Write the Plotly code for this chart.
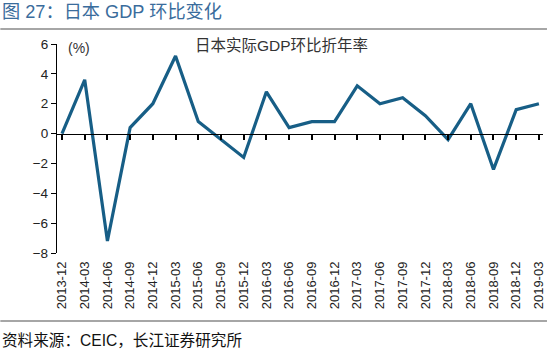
import plotly.graph_objects as go

quarters = ["2013-12","2014-03","2014-06","2014-09","2014-12","2015-03","2015-06","2015-09",
            "2015-12","2016-03","2016-06","2016-09","2016-12","2017-03","2017-06","2017-09",
            "2017-12","2018-03","2018-06","2018-09","2018-12","2019-03"]
gdp_qoq_annualized = [0.0, 3.6, -7.2, 0.4, 2.0, 5.2, 0.8, -0.4, -1.6, 2.8, 0.4, 0.8, 0.8, 3.2,
                      2.0, 2.4, 1.2, -0.4, 2.0, -2.4, 1.6, 2.0]
y_ticks = [-8, -6, -4, -2, 0, 2, 4, 6]

FONT = "Liberation Sans, Arial, Noto Sans CJK SC, sans-serif"
LINE_COLOR = "#175E86"
y_min, y_max = -8, 6

fig = go.Figure()
fig.add_trace(go.Scatter(x=quarters, y=gdp_qoq_annualized, mode="lines",
                         line=dict(color=LINE_COLOR, width=3.2), showlegend=False,
                         hoverinfo="x+y"))
# invisible trace for the zero-line axis with tick marks
fig.add_trace(go.Scatter(x=quarters, y=[0]*len(quarters), xaxis="x2", mode="lines",
                         line=dict(width=0), showlegend=False, hoverinfo="skip"))

x_range = [-0.22, 21.18]
zero_pos = (0 - y_min) / (y_max - y_min)

fig.update_layout(
    width=550, height=350,
    margin=dict(l=57, r=4, t=44, b=97),
    paper_bgcolor="white", plot_bgcolor="white",
    font=dict(family=FONT, color="#222222"),
    xaxis=dict(type="category", categoryorder="array", categoryarray=quarters,
               range=x_range, showline=False, ticks="", showgrid=False, zeroline=False,
               tickangle=-90, tickfont=dict(size=13, color="#222222"),
               ticklabelstandoff=5, domain=[0, 1]),
    xaxis2=dict(type="category", categoryorder="array", categoryarray=quarters,
                range=x_range, overlaying="x", anchor="free", position=zero_pos,
                showline=True, linecolor="black", linewidth=1.3, ticks="outside",
                ticklen=5, tickwidth=1.5, tickcolor="black", showticklabels=False,
                showgrid=False, zeroline=False),
    yaxis=dict(range=[y_min, y_max], tickvals=y_ticks, showline=True, linecolor="black",
               linewidth=1.3, ticks="outside", ticklen=5, tickwidth=1.3, tickcolor="black",
               showgrid=False, zeroline=False, tickfont=dict(size=13.5, color="#222222")),
)

fig.add_annotation(text="图 27：日本 GDP 环比变化", xref="paper", yref="paper",
                   x=-57/489, y=1 + (44-12)/209, xanchor="left", yanchor="middle",
                   showarrow=False, font=dict(size=18.2, color="#3A6C9C", family=FONT))
fig.add_annotation(text="资料来源：CEIC，长江证券研究所", xref="paper", yref="paper",
                   x=-57/489, y=-(340-253)/209, xanchor="left", yanchor="middle",
                   showarrow=False, font=dict(size=15.6, color="#111111", family=FONT))
fig.add_annotation(text="日本实际GDP环比折年率", xref="paper", yref="paper",
                   x=(283-57)/489, y=1 - (45-44)/209, xanchor="center", yanchor="middle",
                   showarrow=False, font=dict(size=15.5, color="#333333", family=FONT))
fig.add_annotation(text="(%)", xref="paper", yref="paper",
                   x=(79-57)/489, y=1 - (48-44)/209, xanchor="center", yanchor="middle",
                   showarrow=False, font=dict(size=14, color="#333333", family=FONT))

fig.add_shape(type="line", xref="paper", yref="paper", x0=-57/489, x1=1+4/489,
              y0=1 + (44-29)/209, y1=1 + (44-29)/209, line=dict(color="#888888", width=1.5))
fig.add_shape(type="line", xref="paper", yref="paper", x0=-57/489, x1=1+4/489,
              y0=-(321-253)/209, y1=-(321-253)/209, line=dict(color="#888888", width=1.5))

fig.write_html("out.html")
